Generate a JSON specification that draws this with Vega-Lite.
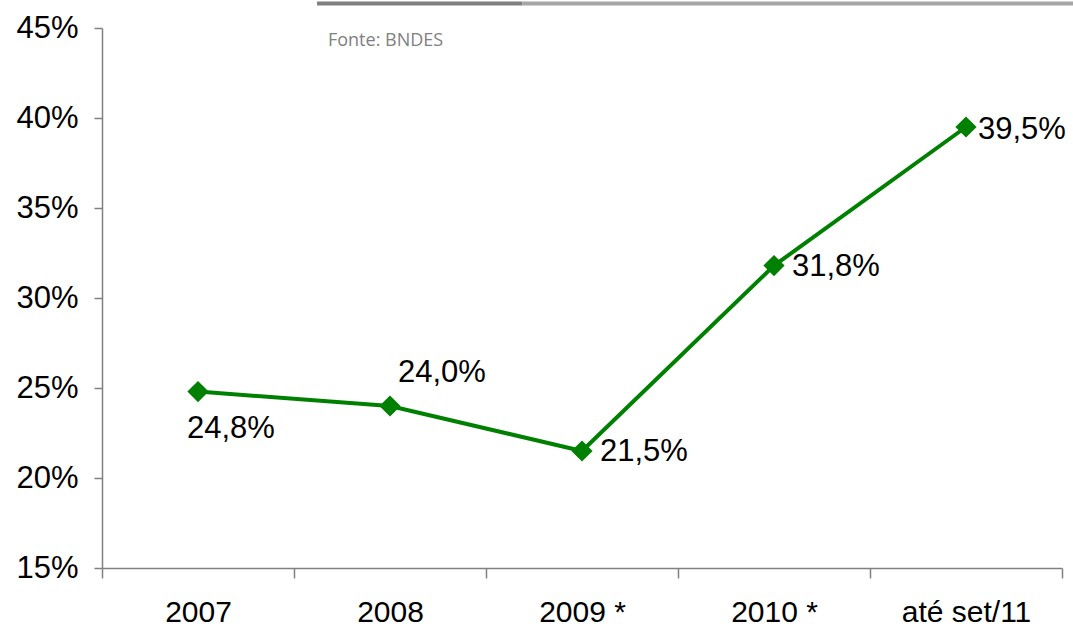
{
  "$schema": "https://vega.github.io/schema/vega-lite/v6.json",
  "width": 960,
  "height": 540,
  "autosize": {"type": "none"},
  "padding": {"left": 102, "top": 28, "right": 11, "bottom": 61},
  "background": "white",
  "config": {
    "view": {"stroke": null},
    "font": "Liberation Sans"
  },
  "title": {
    "text": "Fonte: BNDES",
    "anchor": "start",
    "orient": "top",
    "font": "Open Sans",
    "fontSize": 18,
    "fontWeight": "normal",
    "color": "#808080",
    "dx": 312,
    "dy": 48,
    "offset": 0
  },
  "datasets": {
    "serie": [
      {"periodo": "2007", "valor": 0.248, "rotulo": "24,8%", "pos": "abaixo"},
      {"periodo": "2008", "valor": 0.240, "rotulo": "24,0%", "pos": "acima"},
      {"periodo": "2009 *", "valor": 0.215, "rotulo": "21,5%", "pos": "direita"},
      {"periodo": "2010 *", "valor": 0.318, "rotulo": "31,8%", "pos": "direita"},
      {"periodo": "até set/11", "valor": 0.395, "rotulo": "39,5%", "pos": "direita2"}
    ],
    "barra": [
      {"parte": "escura", "inicio": 1.12, "fim": 2.19, "nivel": 0.4636},
      {"parte": "clara", "inicio": 2.19, "fim": 5.06, "nivel": 0.4636}
    ]
  },
  "data": {"name": "serie"},
  "resolve": {"scale": {"x": "independent"}, "axis": {"x": "independent"}},
  "layer": [
    {
      "encoding": {
        "x": {
          "field": "periodo",
          "type": "nominal",
          "sort": null,
          "scale": {"paddingInner": 0, "paddingOuter": 0},
          "axis": {
            "title": null,
            "labelAngle": 0,
            "labelFontSize": 30,
            "labelColor": "#000000",
            "labelPadding": 19,
            "tickBand": "extent",
            "tickSize": 10,
            "tickColor": "#808080",
            "domainColor": "#808080",
            "domainWidth": 1.5,
            "tickWidth": 1.5
          }
        },
        "y": {
          "field": "valor",
          "type": "quantitative",
          "scale": {"domain": [0.15, 0.45], "nice": false, "zero": false},
          "axis": {
            "title": null,
            "format": ".0%",
            "values": [0.15, 0.2, 0.25, 0.3, 0.35, 0.4, 0.45],
            "grid": false,
            "labelFontSize": 31,
            "labelColor": "#000000",
            "labelPadding": 16,
            "tickSize": 8,
            "tickColor": "#808080",
            "domainColor": "#808080",
            "domainWidth": 1.5,
            "tickWidth": 1.5
          }
        }
      },
      "layer": [
        {
          "mark": {"type": "line", "color": "#008000", "strokeWidth": 4}
        },
        {
          "mark": {"type": "point", "shape": "diamond", "filled": true, "color": "#008000", "size": 450, "opacity": 1}
        },
        {
          "transform": [{"filter": "datum.pos === 'abaixo'"}],
          "mark": {"type": "text", "fontSize": 31, "color": "#000000", "align": "left", "baseline": "middle", "dx": -11, "dy": 37},
          "encoding": {"text": {"field": "rotulo"}}
        },
        {
          "transform": [{"filter": "datum.pos === 'acima'"}],
          "mark": {"type": "text", "fontSize": 31, "color": "#000000", "align": "left", "baseline": "middle", "dx": 8, "dy": -33},
          "encoding": {"text": {"field": "rotulo"}}
        },
        {
          "transform": [{"filter": "datum.pos === 'direita'"}],
          "mark": {"type": "text", "fontSize": 31, "color": "#000000", "align": "left", "baseline": "middle", "dx": 18, "dy": 1},
          "encoding": {"text": {"field": "rotulo"}}
        },
        {
          "transform": [{"filter": "datum.pos === 'direita2'"}],
          "mark": {"type": "text", "fontSize": 31, "color": "#000000", "align": "left", "baseline": "middle", "dx": 12, "dy": 3},
          "encoding": {"text": {"field": "rotulo"}}
        }
      ]
    },
    {
      "data": {"name": "barra"},
      "encoding": {
        "x": {"field": "inicio", "type": "quantitative", "scale": {"domain": [0, 5], "nice": false, "zero": false}, "axis": null},
        "x2": {"field": "fim"},
        "y": {"field": "nivel", "type": "quantitative"}
      },
      "layer": [
        {
          "transform": [{"filter": "datum.parte === 'escura'"}],
          "mark": {"type": "rule", "color": "#7f7f7f", "strokeWidth": 4, "clip": false}
        },
        {
          "transform": [{"filter": "datum.parte === 'clara'"}],
          "mark": {"type": "rule", "color": "#a6a6a6", "strokeWidth": 4, "clip": false}
        }
      ]
    }
  ]
}
